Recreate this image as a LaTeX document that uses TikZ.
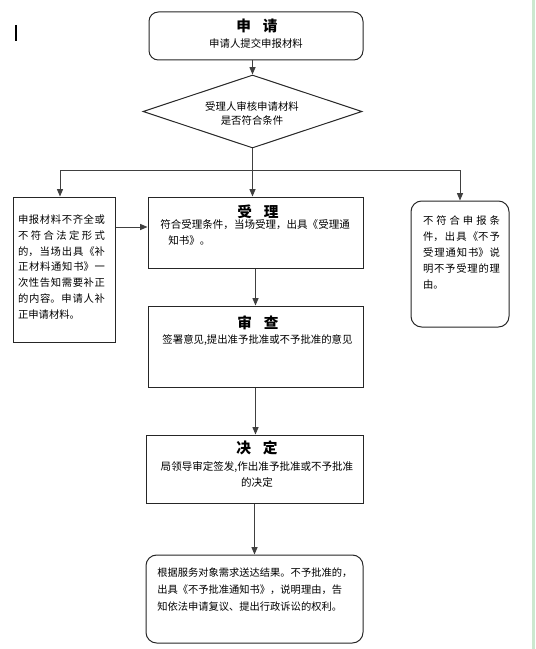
\documentclass[tikz,border=0pt]{standalone}
\usepackage{fontspec}
\setmainfont{Noto Sans CJK SC}
\usetikzlibrary{shapes.geometric,arrows.meta,fit}
\XeTeXlinebreaklocale "zh"
\XeTeXlinebreakskip=0pt plus 3pt

\definecolor{eyegreen}{RGB}{204,232,207}

\tikzset{
  frame/.style={draw=black!85,line width=0.75pt,inner sep=0pt},
  stepbox/.style={frame,rectangle},
  roundstep/.style={frame,rectangle,rounded corners=7pt},
  check/.style={frame,diamond,minimum width=164.25pt,minimum height=54.75pt},
  flow/.style={draw=black!75,line width=0.75pt,-{Triangle[length=5.5pt,width=4.5pt]}},
  headline/.style={font=\bfseries\fontsize{11}{13}\selectfont,inner sep=0pt},
  bodytext/.style={font=\fontsize{7.8}{11}\selectfont,inner sep=0pt},
}

\begin{document}
\begin{tikzpicture}[x=0.75pt,y=-0.75pt]
  \fill[white] (0,0) rectangle (535,649);
  \useasboundingbox (0,0) rectangle (535,649);
  \fill[eyegreen] (532,0) rectangle (535,649);
  \draw[line width=1.1pt] (16,25) -- (16,41);

  % boxes
  \node[roundstep,fit={(149,12) (363,60)}] (shenqing) {};
  \node[check] (shenhe) at (252.5,111.5) {};
  \node[stepbox,fit={(13,197) (115,342)}] (buzheng) {};
  \node[stepbox,fit={(148,197) (363,268)}] (shouli) {};
  \node[roundstep,rounded corners=8pt,fit={(411,201) (509,327)}] (buyu) {};
  \node[stepbox,fit={(148,306) (363,387)}] (shencha) {};
  \node[stepbox,fit={(146,435) (363,503)}] (jueding) {};
  \node[roundstep,rounded corners=8pt,fit={(146,555) (363,643)}] (songda) {};

  % texts
  \node[headline] (shenqingT) at (257,26) {申\hspace{0.8em}请};
  \node[bodytext] (shenqingB) at (256,44) {申请人提交申报材料};
  \node[bodytext,align=center,font=\fontsize{7.8}{10}\selectfont] (shenheB) at (252,113.5)
    {受理人审核申请材料\\是否符合条件};
  \node[bodytext,text width=65.25pt,align=justify,font=\fontsize{7.75}{11.8}\selectfont]
    (buzhengB) at (61.5,267)
    {申报材料不齐全或\linebreak 不符合法定形式\linebreak 的，当场出具《补\linebreak
     正材料通知书》一\linebreak 次性告知需要补正\linebreak 的内容。申请人补\linebreak 正申请材料。};
  \node[headline] (shouliT) at (258,212) {受\hspace{0.8em}理};
  \node[bodytext,align=left,anchor=west,font=\fontsize{7.9}{11.3}\selectfont] (shouliB) at (160,232.5)
    {符合受理条件，当场受理，出具《受理通\\\hspace*{6pt}知书》。};
  \node[bodytext,text width=57.75pt,align=justify,font=\fontsize{7.75}{12}\selectfont]
    (buyuB) at (461.5,252.7)
    {不符合申报条\linebreak 件，出具《不予\linebreak 受理通知书》说\linebreak 明不予受理的理\linebreak 由。};
  \node[headline] (shenchaT) at (258,323) {审\hspace{0.8em}查};
  \node[bodytext] (shenchaB) at (257.5,340) {签署意见,提出准予批准或不予批准的意见};
  \node[headline] (juedingT) at (257,448) {决\hspace{0.8em}定};
  \node[bodytext,align=center,font=\fontsize{7.9}{11.3}\selectfont] (juedingB) at (257,474.5)
    {局领导审定签发,作出准予批准或不予批准\\的决定};
  \node[bodytext,align=left,anchor=west,font=\fontsize{7.7}{12.75}\selectfont] (songdaB) at (157,590)
    {根据服务对象需求送达结果。不予批准的，\\出具《不予批准通知书》，说明理由，告\\知依法申请复议、提出行政诉讼的权利。};

  % connectors
  \draw[flow] (shenqing.south -| shenhe.north) -- (shenhe.north);
  \draw[flow] (shenhe.south) -- (shenhe.south |- shouli.north);
  \coordinate (fork) at (shenhe.south |- 0,170);
  \draw[flow] (fork) -| ([xshift=-3pt]buzheng.north);
  \draw[flow] (fork) -| (buyu.north);
  \draw[flow] (buzheng.east |- 0,227) -- (shouli.west |- 0,227);
  \draw[flow] (shouli.south) -- (shencha.north);
  \draw[flow] (shencha.south) -- (shencha.south |- jueding.north);
  \draw[flow] (jueding.south) -- (jueding.south |- songda.north);
\end{tikzpicture}
\end{document}
